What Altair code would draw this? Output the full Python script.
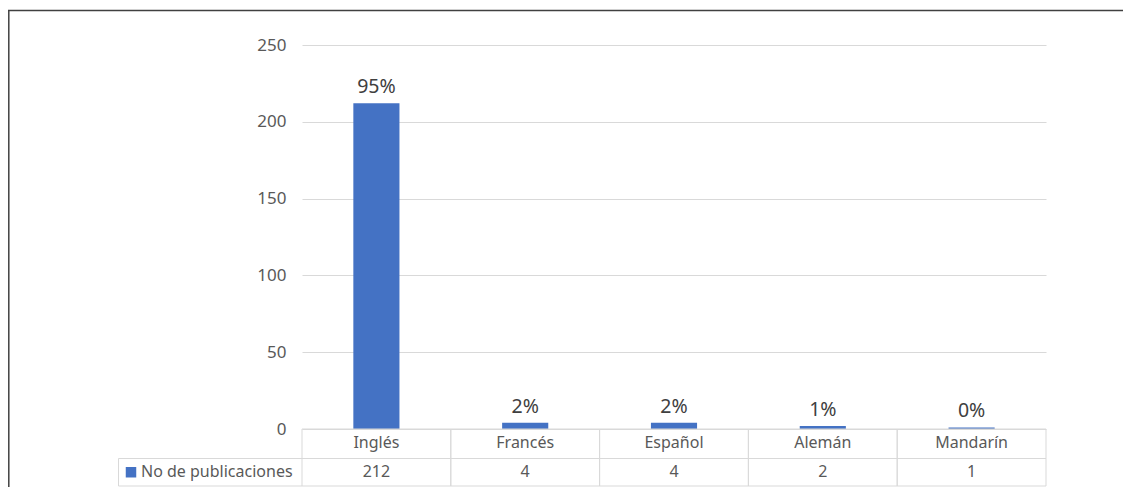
import altair as alt
import pandas as pd

categories = ["Inglés", "Francés", "Español", "Alemán", "Mandarín"]
publications = [212, 4, 4, 2, 1]
pct_labels = ["95%", "2%", "2%", "1%", "0%"]
series_name = "No de publicaciones"
y_ticks = [0, 50, 100, 150, 200, 250]

df = pd.DataFrame({"lang": categories, "n": publications, "pct": pct_labels})
one = pd.DataFrame({"series": [series_name]})

W, H = 744, 384
FONT = "Noto Sans"
BLUE = "#4472C4"
GRID = "#D9D9D9"
TXT = "#595959"
DARK = "#404040"

x_scale = alt.Scale(type="band", domain=categories, paddingInner=0, paddingOuter=0)
xenc = alt.X("lang:N", scale=x_scale, sort=categories, axis=None)
y_scale = alt.Scale(domain=[0, 250], nice=False)

base = alt.Chart(df)

bars = base.mark_bar(color=BLUE, width=alt.RelativeBandSize(0.31)).encode(
    x=xenc,
    y=alt.Y("n:Q", scale=y_scale,
            axis=alt.Axis(values=y_ticks, grid=True, gridColor=GRID, gridWidth=1,
                          domain=False, ticks=False, labelPadding=16,
                          labelFont=FONT, labelFontSize=17, labelColor=TXT, title=None)),
)

pct = base.mark_text(font=FONT, fontSize=19.5, color=DARK, baseline="bottom", dy=-6).encode(
    x=xenc, y=alt.Y("n:Q", scale=y_scale), text="pct:N"
)

# data table below the plot
TOP, MID, BOT = 384, 413.5, 441
LEFT = -183.5

vlines0 = base.mark_rule(color=GRID, strokeWidth=1).encode(
    x=alt.X("lang:N", scale=x_scale, sort=categories, axis=None, bandPosition=0),
    y=alt.value(TOP), y2=alt.value(BOT))
vlines1 = base.mark_rule(color=GRID, strokeWidth=1).encode(
    x=alt.X("lang:N", scale=x_scale, sort=categories, axis=None, bandPosition=1),
    y=alt.value(TOP), y2=alt.value(BOT))

single = alt.Chart(one)
hline_top = single.mark_rule(color=GRID, strokeWidth=1).encode(
    x=alt.value(0), x2=alt.value(W), y=alt.value(TOP))
hline_mid = single.mark_rule(color=GRID, strokeWidth=1).encode(
    x=alt.value(LEFT), x2=alt.value(W), y=alt.value(MID))
hline_bot = single.mark_rule(color=GRID, strokeWidth=1).encode(
    x=alt.value(LEFT), x2=alt.value(W), y=alt.value(BOT))
vline_leg = single.mark_rule(color=GRID, strokeWidth=1).encode(
    x=alt.value(LEFT), y=alt.value(MID), y2=alt.value(BOT))

cat_text = base.mark_text(font=FONT, fontSize=16, color=TXT, baseline="middle").encode(
    x=xenc, y=alt.value((TOP + MID) / 2 - 0.5), text="lang:N")
val_text = base.mark_text(font=FONT, fontSize=16, color=TXT, baseline="middle").encode(
    x=xenc, y=alt.value((MID + BOT) / 2), text="n:Q")

leg_sym = single.mark_point(shape="square", filled=True, opacity=1, color=BLUE, size=110).encode(
    x=alt.value(-171), y=alt.value((MID + BOT) / 2))
leg_txt = single.mark_text(font=FONT, fontSize=16, color=TXT, align="left", baseline="middle").encode(
    x=alt.value(-161), y=alt.value((MID + BOT) / 2), text="series:N")

# outer frame (top and left edges visible)
frame_top = single.mark_rule(color=DARK, strokeWidth=1.5).encode(
    x=alt.value(-294), x2=alt.value(830), y=alt.value(-34.5))
frame_left = single.mark_rule(color=DARK, strokeWidth=1.5).encode(
    x=alt.value(-293.2), y=alt.value(-35), y2=alt.value(450))

chart = alt.layer(
    bars, pct, vlines0, vlines1, hline_top, hline_mid, hline_bot, vline_leg,
    cat_text, val_text, leg_sym, leg_txt, frame_top, frame_left
).properties(
    width=W, height=H,
    autosize=alt.AutoSizeParams(type="none"),
    padding={"left": 294, "top": 37, "right": 77, "bottom": 58},
    background="white",
).configure_view(stroke=None)

chart.save("out.html", embed_options={"renderer": "svg", "actions": False})
